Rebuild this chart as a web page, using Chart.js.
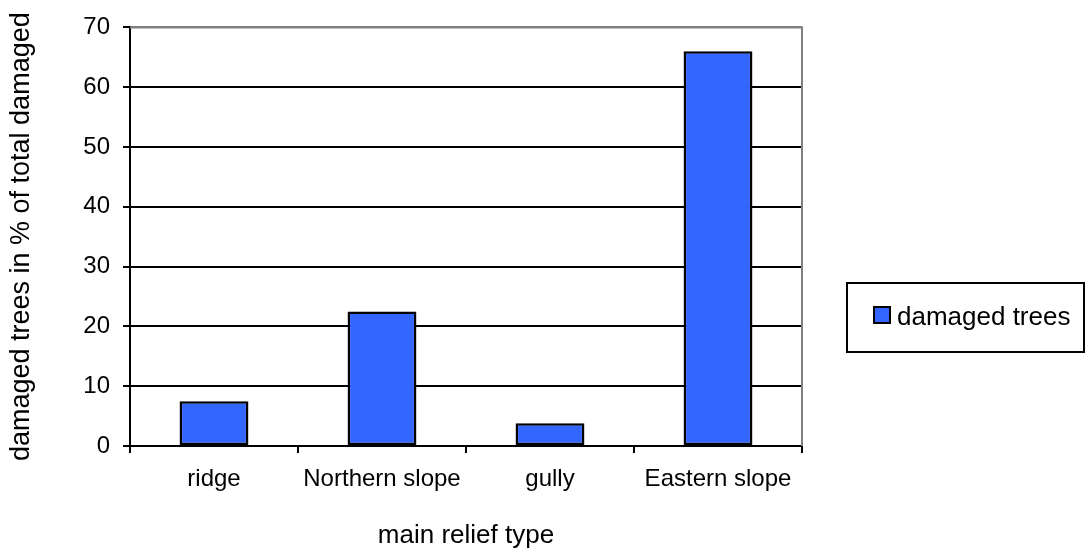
<!DOCTYPE html>
<html>
<head>
<meta charset="utf-8">
<script src="https://cdn.jsdelivr.net/npm/chart.js@4/dist/chart.umd.min.js"></script>
<style>
  html, body { margin: 0; padding: 0; background: #fff; }
  #wrap { width: 1086px; height: 551px; position: relative; }
</style>
</head>
<body>
<div id="wrap"><canvas id="c"></canvas></div>
<script>
// Share of damaged trees by main relief type
const categories = ['ridge', 'Northern slope', 'gully', 'Eastern slope'];
const damagedTrees = [7.5, 22.5, 3.8, 66];
const seriesName = 'damaged trees';
const yTicks = [0, 10, 20, 30, 40, 50, 60, 70];
const xTitle = 'main relief type';
const yTitle = 'damaged trees in % of total damaged';

const FONT = '"Liberation Sans", Arial, sans-serif';
const BAR_FILL = '#3366FF';

// Gray frame on the top and right of the plot area
const frame = {
  id: 'frame',
  beforeDatasetsDraw(chart) {
    const { ctx, chartArea: a } = chart;
    ctx.save();
    ctx.strokeStyle = '#808080';
    ctx.lineWidth = 2;
    ctx.beginPath();
    ctx.moveTo(a.left, a.top);
    ctx.lineTo(a.right, a.top);
    ctx.lineTo(a.right, a.bottom);
    ctx.stroke();
    ctx.restore();
  }
};

// Boxed legend to the right of the plot
const boxLegend = {
  id: 'boxLegend',
  afterDraw(chart) {
    const { ctx } = chart;
    const ds = chart.data.datasets[0];
    ctx.save();
    ctx.lineWidth = 2;
    ctx.strokeStyle = '#000';
    ctx.strokeRect(847, 283, 237, 69);
    ctx.fillStyle = ds.backgroundColor;
    ctx.fillRect(874, 307, 16, 16);
    ctx.strokeRect(874, 307, 16, 16);
    ctx.fillStyle = '#000';
    ctx.font = '26px ' + FONT;
    ctx.textBaseline = 'alphabetic';
    ctx.textAlign = 'left';
    ctx.fillText(ds.label, 897, 325);
    ctx.restore();
  }
};

new Chart(document.getElementById('c'), {
  type: 'bar',
  data: {
    labels: categories,
    datasets: [{
      label: seriesName,
      data: damagedTrees,
      backgroundColor: BAR_FILL,
      borderColor: '#000',
      borderWidth: 2.5,
      borderSkipped: false,
      categoryPercentage: 1,
      barPercentage: 0.41
    }]
  },
  options: {
    responsive: true,
    maintainAspectRatio: false,
    animation: false,
    layout: { padding: { top: 27, right: 284, left: 0, bottom: 0 } },
    plugins: { legend: { display: false }, tooltip: { enabled: false } },
    scales: {
      x: {
        offset: true,
        grid: { offset: true, drawOnChartArea: false, drawTicks: true, tickLength: 7, color: '#000', lineWidth: 2 },
        border: { color: '#000', width: 2 },
        ticks: { color: '#000', font: { family: FONT, size: 24 }, maxRotation: 0, autoSkip: false, padding: 12 },
        title: { display: true, text: xTitle, color: '#000', font: { family: FONT, size: 26 }, padding: { top: 0, bottom: 0 } },
        afterFit(s) { s.height = 105; }
      },
      y: {
        min: 0,
        max: 70,
        afterBuildTicks(s) { s.ticks = yTicks.map(v => ({ value: v })); },
        grid: {
          color: c => (c.tick && c.tick.value === 70 ? '#808080' : '#000'),
          tickColor: '#000',
          lineWidth: 2,
          tickLength: 7
        },
        border: { color: '#000', width: 2 },
        ticks: { color: '#000', font: { family: FONT, size: 24 }, padding: 13 },
        title: { display: true, text: yTitle, color: '#000', font: { family: FONT, size: 27 }, padding: { top: 5, bottom: 0 } },
        afterFit(s) { s.width = 130; }
      }
    }
  },
  plugins: [frame, boxLegend]
});
</script>
</body>
</html>
